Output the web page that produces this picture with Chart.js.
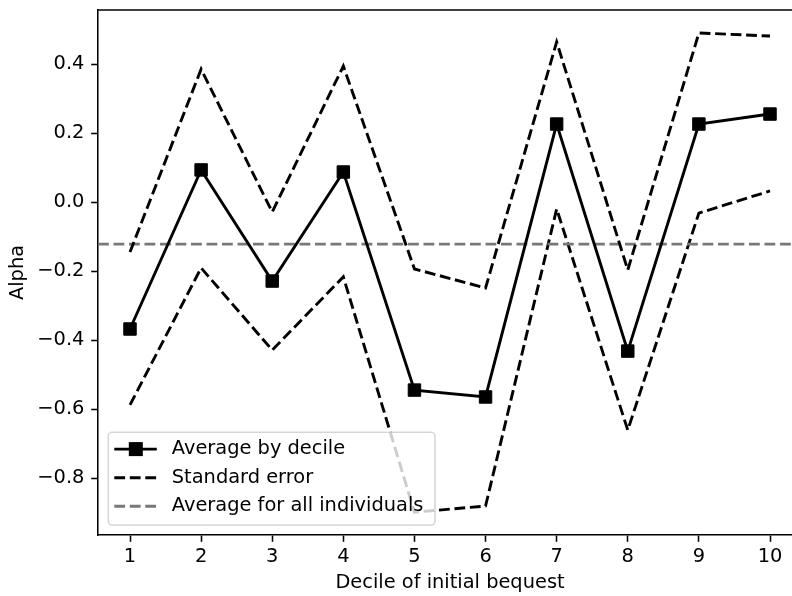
<!DOCTYPE html>
<html>
<head>
<meta charset="utf-8">
<script src="https://cdn.jsdelivr.net/npm/chart.js@4"></script>
<style>
  html, body { margin: 0; padding: 0; background: #fff; overflow: hidden; }
  #wrap { width: 792px; height: 596px; overflow: hidden; }
</style>
</head>
<body>
<div id="wrap"><canvas id="chart" width="812" height="596"></canvas></div>
<script>
/*************************
DATA
*************************/

const deciles = [1, 2, 3, 4, 5, 6, 7, 8, 9, 10];
const averageByDecile = [-0.368, 0.093, -0.229, 0.087, -0.545, -0.565, 0.226, -0.432, 0.226, 0.255];
const upperError = [-0.145, 0.385, -0.029, 0.394, -0.194, -0.249, 0.464, -0.197, 0.490, 0.481];
const lowerError = [-0.588, -0.191, -0.429, -0.217, -0.899, -0.881, -0.020, -0.661, -0.032, 0.032];
const overallAverage = -0.122;
const yTickValues = [-0.8, -0.6, -0.4, -0.2, 0.0, 0.2, 0.4];

// axis limits (matplotlib style margins)
const xMin = 0.55, xMax = 10.45;
const yMin = -0.965, yMax = 0.5565;

const fontFamily = 'DejaVu Sans';
const fontSize = 19.4;
const spineWidth = 1.55;
const lineWidth = 2.9;
const dash = [10.8, 4.7];

const toPoints = (vals) => deciles.map((d, i) => ({x: d, y: vals[i]}));

/*************************
PLUGINS
*************************/

// top spine (the right one falls outside the picture)
const framePlugin = {
	id: 'frame',
	afterDraw(chart){
		const {ctx, chartArea: a} = chart;
		ctx.save();
		ctx.strokeStyle = '#000';
		ctx.lineWidth = spineWidth;
		ctx.beginPath();
		ctx.moveTo(a.left, a.top);
		ctx.lineTo(a.right, a.top);
		ctx.stroke();
		ctx.restore();
	}
};

// legend box in the lower left corner, drawn over the lines
const legendPlugin = {
	id: 'innerLegend',
	afterDatasetsDraw(chart){
		const {ctx, chartArea: a} = chart;
		const x0 = a.left + 10.3, y0 = a.bottom - 102.7, w = 326.7, h = 92.7, r = 4;
		ctx.save();
		ctx.globalAlpha = 0.8;
		ctx.fillStyle = '#fff';
		ctx.strokeStyle = '#cccccc';
		ctx.lineWidth = 1.55;
		ctx.beginPath();
		ctx.roundRect(x0, y0, w, h, r);
		ctx.fill();
		ctx.stroke();
		ctx.globalAlpha = 1;

		ctx.font = fontSize + 'px "' + fontFamily + '"';
		ctx.textBaseline = 'middle';
		ctx.fillStyle = '#000';
		chart.data.datasets.forEach((ds, i) => {
			if(!ds.label) return;
			const rowY = y0 + 16.8 + i * 28.6;
			ctx.strokeStyle = ds.borderColor;
			ctx.lineWidth = ds.borderWidth;
			ctx.setLineDash(ds.borderDash || []);
			ctx.beginPath();
			ctx.moveTo(x0 + 6, rowY);
			ctx.lineTo(x0 + 48.5, rowY);
			ctx.stroke();
			ctx.setLineDash([]);
			if(ds.pointRadius > 0){
				ctx.fillStyle = ds.pointBackgroundColor;
				const s = 14;
				ctx.fillRect(x0 + 27.5 - s / 2, rowY - s / 2, s, s);
			}
			ctx.fillStyle = '#000';
			ctx.fillText(ds.label, x0 + 63.5, rowY);
		});
		ctx.restore();
	}
};

/*************************
CHART
*************************/

const tickFont = {family: fontFamily, size: fontSize};

new Chart(document.getElementById('chart').getContext('2d'), {
	type: 'line',
	data: {
		datasets: [
			{
				label: 'Average by decile',
				data: toPoints(averageByDecile),
				borderColor: '#000',
				borderWidth: lineWidth,
				pointStyle: 'rect',
				pointRadius: 8.8,
				pointBorderWidth: 1,
				pointBackgroundColor: '#000',
				pointBorderColor: '#000',
				tension: 0,
			},
			{
				label: 'Standard error',
				data: toPoints(upperError),
				borderColor: '#000',
				borderWidth: lineWidth,
				borderDash: dash,
				pointRadius: 0,
				tension: 0,
			},
			{
				label: 'Average for all individuals',
				data: [{x: xMin, y: overallAverage}, {x: xMax, y: overallAverage}],
				borderColor: '#787878',
				borderWidth: lineWidth,
				borderDash: dash,
				pointRadius: 0,
				tension: 0,
			},
			{
				label: '',
				data: toPoints(lowerError),
				borderColor: '#000',
				borderWidth: lineWidth,
				borderDash: dash,
				pointRadius: 0,
				tension: 0,
			},
		]
	},
	options: {
		responsive: false,
		animation: false,
		layout: {padding: {top: 10, right: 10, left: 0, bottom: 0}},
		plugins: {
			legend: {display: false},
			tooltip: {enabled: false},
		},
		scales: {
			x: {
				type: 'linear',
				min: xMin,
				max: xMax,
				afterBuildTicks: (scale) => { scale.ticks = deciles.map(v => ({value: v})); },
				afterFit: (scale) => {
					scale.height = 61;
					scale.paddingLeft = 0;
					scale.paddingRight = 0;
				},
				ticks: {
					font: tickFont,
					color: '#000',
					padding: 3.8,
					maxRotation: 0,
					callback: (v) => String(v),
				},
				grid: {drawOnChartArea: false, tickLength: 6.8, tickWidth: spineWidth, tickColor: '#000'},
				border: {color: '#000', width: spineWidth},
				title: {display: true, text: 'Decile of initial bequest', font: tickFont, color: '#000', padding: {top: 0, bottom: 1.4}},
			},
			y: {
				type: 'linear',
				min: yMin,
				max: yMax,
				afterBuildTicks: (scale) => { scale.ticks = yTickValues.map(v => ({value: v})); },
				afterFit: (scale) => {
					scale.width = 98;
					scale.paddingTop = 0;
					scale.paddingBottom = 0;
				},
				ticks: {
					font: tickFont,
					color: '#000',
					padding: 6.8,
					callback: (v) => (v < -1e-9 ? '\u2212' : '') + Math.abs(v).toFixed(1),
				},
				grid: {drawOnChartArea: false, tickLength: 6.8, tickWidth: spineWidth, tickColor: '#000'},
				border: {color: '#000', width: spineWidth},
				title: {display: true, text: 'Alpha', font: tickFont, color: '#000', padding: {top: 6.6, bottom: 0}},
			},
		},
	},
	plugins: [framePlugin, legendPlugin],
});
</script>
</body>
</html>
